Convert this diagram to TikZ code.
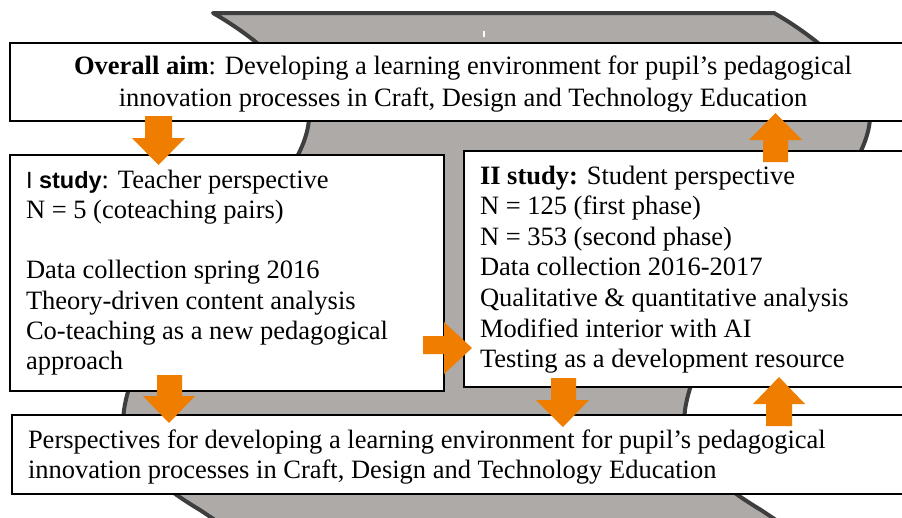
\documentclass[tikz,border=0pt]{standalone}
\usepackage{fontspec}
\setmainfont{Liberation Serif}
\setsansfont{Liberation Sans}
\definecolor{shapegrey}{RGB}{174,170,168}
\definecolor{edgegrey}{RGB}{62,62,62}
\definecolor{arroworange}{RGB}{238,125,0}
\newcommand{\mainsize}{\fontsize{26.5}{30.3}\selectfont}
\newcommand{\aimsize}{\fontsize{26.5}{32.5}\selectfont}
\newcommand{\twosize}{\fontsize{26.5}{30.6}\selectfont}
\newcommand{\botsize}{\fontsize{26.5}{30}\selectfont}
\begin{document}
\begin{tikzpicture}[x=1pt,y=-1pt,
  box/.style={draw=black,line width=2.2pt,fill=white,rectangle,inner sep=0pt,outer sep=0pt,anchor=north west},
  txt/.style={inner sep=0pt,outer sep=0pt},
  orangearrow/.style={fill=arroworange}]
\useasboundingbox (0,0) rectangle (902,517);
\fill[white] (0,0) rectangle (902,517);
\begin{scope}
\clip (0,0) rectangle (902,517);
% grey background shape
\path[fill=shapegrey, draw=edgegrey, line width=4pt, line join=round]
 (213,13) .. controls (262,41) and (310,85) .. (309,118)
 .. controls (305,200) and (140,300) .. (124,410)
 .. controls (119,450) and (150,480) .. (200,510)
 -- (260,550) -- (821,550) -- (761,510)
 .. controls (711,480) and (680,450) .. (685,410)
 .. controls (701,300) and (866,200) .. (870,118)
 .. controls (871,85) and (823,41) .. (774,13) -- cycle;
\fill[white] (482.5,31) rectangle (485,36.5);
% boxes
\node[box, minimum width=910pt, minimum height=78pt] (aim) at (10,43) {};
\node[box, minimum width=434pt, minimum height=236pt] (one) at (10,155) {};
\node[box, minimum width=456pt, minimum height=236pt] (two) at (464,151) {};
\node[box, minimum width=908pt, minimum height=79pt] (persp) at (12,415) {};
% texts
\node[txt, anchor=base, font=\aimsize] (aimtext) at (463,74) {\begin{tabular}[t]{@{}c@{}}\textbf{Overall aim}: Developing a learning environment for pupil’s pedagogical\\ innovation processes in Craft, Design and Technology Education\end{tabular}};
\node[txt, anchor=base west, font=\mainsize] (onetext) at (26,188) {\begin{tabular}[t]{@{}l@{}}{\sffamily\fontsize{23.5}{30.3}\selectfont I \bfseries study}: Teacher perspective\\ N = 5 (coteaching pairs)\\ \\ Data collection spring 2016\\ Theory-driven content analysis\\ Co-teaching as a new pedagogical\\ approach\end{tabular}};
\node[txt, anchor=base west, font=\twosize] (twotext) at (480,184) {\begin{tabular}[t]{@{}l@{}}\textbf{II study:} Student perspective\\ N = 125 (first phase)\\ N = 353 (second phase)\\ Data collection 2016-2017\\ Qualitative \& quantitative analysis\\ Modified interior with AI\\ Testing as a development resource\end{tabular}};
\node[txt, anchor=base west, font=\botsize] (persptext) at (28,448) {\begin{tabular}[t]{@{}l@{}}Perspectives for developing a learning environment for pupil’s pedagogical\\ innovation processes in Craft, Design and Technology Education\end{tabular}};
% orange arrows
\fill[orangearrow] (145,116) -- (172,116) -- (172,138) -- (185,138) -- (158.5,165) -- (132,138) -- (145,138) -- cycle;
\fill[orangearrow] (763,162) -- (788,162) -- (788,140) -- (802,140) -- (775.5,113) -- (749,140) -- (763,140) -- cycle;
\fill[orangearrow] (423,336) -- (444,336) -- (444,322) -- (472,348) -- (444,374) -- (444,354) -- (423,354) -- cycle;
\fill[orangearrow] (157,375) -- (182,375) -- (182,396) -- (195,396) -- (169,423) -- (143,396) -- (157,396) -- cycle;
\fill[orangearrow] (551,378) -- (576,378) -- (576,400) -- (589,400) -- (563,427) -- (536,400) -- (551,400) -- cycle;
\fill[orangearrow] (766,426) -- (792,426) -- (792,404) -- (805,404) -- (779,377) -- (753,404) -- (766,404) -- cycle;
\end{scope}
\end{tikzpicture}
\end{document}
